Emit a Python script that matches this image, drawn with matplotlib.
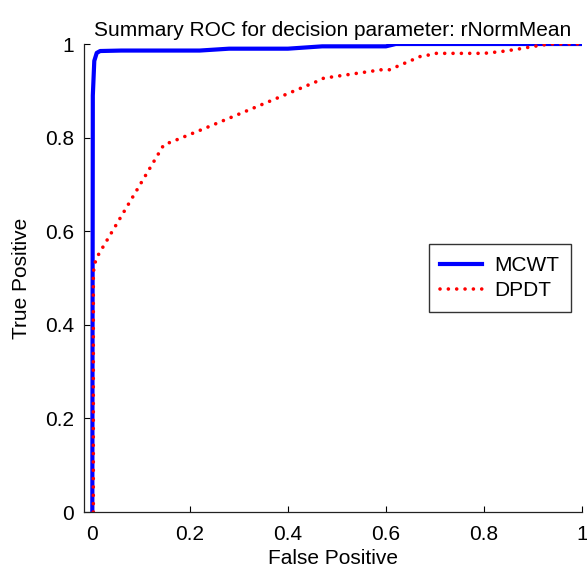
import numpy as np
import matplotlib
matplotlib.use("Agg")
import matplotlib.pyplot as plt

plt.rcParams['font.family'] = ['Liberation Sans', 'DejaVu Sans']

# ROC points
mcwt_fp = [0.001, 0.002, 0.005, 0.01, 0.017, 0.06, 0.22, 0.28, 0.40, 0.47, 0.60, 0.62, 1.0]
mcwt_tp = [0.0, 0.89, 0.964, 0.981, 0.985, 0.986, 0.986, 0.99, 0.99, 0.995, 0.995, 1.0, 1.0]

dpdt_fp = [0.003, 0.003, 0.005, 0.0096, 0.018, 0.147, 0.163, 0.224, 0.334, 0.459, 0.473,
           0.591, 0.607, 0.654, 0.669, 0.685, 0.701, 0.80, 0.836, 0.869, 0.902, 0.935, 1.0]
dpdt_tp = [0.0, 0.51, 0.527, 0.543, 0.558, 0.785, 0.791, 0.817, 0.865, 0.920, 0.927,
           0.945, 0.945, 0.966, 0.973, 0.976, 0.980, 0.980, 0.984, 0.989, 0.995, 1.0, 1.0]

ticks = [0, 0.2, 0.4, 0.6, 0.8, 1]
tick_labels = ["0", "0.2", "0.4", "0.6", "0.8", "1"]

fig = plt.figure(figsize=(5.87, 5.73), dpi=100)
ax = fig.add_axes([84/587, 61/573, 498/587, 468/573])

ax.plot(mcwt_fp, mcwt_tp, color="#0000ff", linewidth=3, label="MCWT")
ax.plot(dpdt_fp, dpdt_tp, color="#ff0000", linewidth=2.6, linestyle=(0, (0.01, 2.3)),
        dash_capstyle="round", label="DPDT")

ax.set_xlim(-0.016, 1.0)
ax.set_ylim(0, 1)
ax.set_xticks(ticks)
ax.set_xticklabels(tick_labels)
ax.set_yticks(ticks)
ax.set_yticklabels(tick_labels)

for s in ["top", "right"]:
    ax.spines[s].set_visible(False)
for s in ["left", "bottom"]:
    ax.spines[s].set_color("#222222")
    ax.spines[s].set_linewidth(0.9)

ax.tick_params(direction="in", length=4, width=0.8, labelsize=15, pad=7)
ax.tick_params(axis="x", pad=9)

ax.set_xlabel("False Positive", fontsize=15, labelpad=4)
ax.set_ylabel("True Positive", fontsize=15, labelpad=10)
ax.set_title("Summary ROC for decision parameter: rNormMean", fontsize=15, pad=6)

leg = ax.legend(loc="center", bbox_to_anchor=(0.835, 0.5), fontsize=15, frameon=True,
                fancybox=False, edgecolor="black", handlelength=2.0, handletextpad=0.6,
                borderpad=0.55, labelspacing=0.3, borderaxespad=0)
leg.get_frame().set_linewidth(1.0)

fig.savefig("out.png", dpi=100)
